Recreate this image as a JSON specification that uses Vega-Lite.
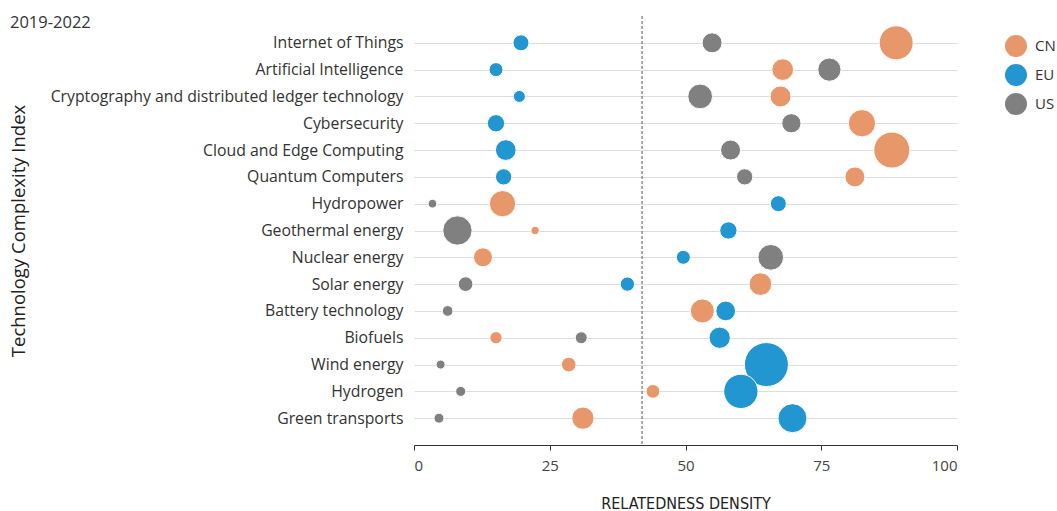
{
  "$schema": "https://vega.github.io/schema/vega-lite/v6.json",
  "width": 543,
  "height": 429,
  "autosize": "none",
  "padding": {"left": 414, "top": 16, "right": 100, "bottom": 66},
  "background": "white",
  "config": {
    "view": {"stroke": null},
    "font": "Open Sans"
  },
  "title": {
    "text": "2019-2022",
    "anchor": "start",
    "frame": "group",
    "orient": "top",
    "offset": 0,
    "dx": -404,
    "dy": 29,
    "baseline": "alphabetic",
    "font": "Open Sans",
    "fontSize": 16.5,
    "fontWeight": "normal",
    "color": "#333333"
  },
  "datasets": {
    "points": [
      {"tech": "Internet of Things", "region": "EU", "density": 19.7, "weight": 25.6},
      {"tech": "Internet of Things", "region": "US", "density": 54.9, "weight": 40},
      {"tech": "Internet of Things", "region": "CN", "density": 88.8, "weight": 115.6},
      {"tech": "Artificial Intelligence", "region": "EU", "density": 15.1, "weight": 19.6},
      {"tech": "Artificial Intelligence", "region": "CN", "density": 67.9, "weight": 47},
      {"tech": "Artificial Intelligence", "region": "US", "density": 76.5, "weight": 54},
      {"tech": "Cryptography and distributed ledger technology", "region": "EU", "density": 19.4, "weight": 14.4},
      {"tech": "Cryptography and distributed ledger technology", "region": "US", "density": 52.7, "weight": 61},
      {"tech": "Cryptography and distributed ledger technology", "region": "CN", "density": 67.5, "weight": 44},
      {"tech": "Cybersecurity", "region": "EU", "density": 15.1, "weight": 30},
      {"tech": "Cybersecurity", "region": "US", "density": 69.5, "weight": 37},
      {"tech": "Cybersecurity", "region": "CN", "density": 82.5, "weight": 74.5},
      {"tech": "Cloud and Edge Computing", "region": "EU", "density": 16.9, "weight": 43},
      {"tech": "Cloud and Edge Computing", "region": "US", "density": 58.3, "weight": 40},
      {"tech": "Cloud and Edge Computing", "region": "CN", "density": 88.0, "weight": 130},
      {"tech": "Quantum Computers", "region": "EU", "density": 16.5, "weight": 26.6},
      {"tech": "Quantum Computers", "region": "US", "density": 60.9, "weight": 26.6},
      {"tech": "Quantum Computers", "region": "CN", "density": 81.2, "weight": 40},
      {"tech": "Hydropower", "region": "US", "density": 3.4, "weight": 7.6},
      {"tech": "Hydropower", "region": "CN", "density": 16.3, "weight": 69},
      {"tech": "Hydropower", "region": "EU", "density": 67.1, "weight": 25.6},
      {"tech": "Geothermal energy", "region": "US", "density": 8.0, "weight": 86},
      {"tech": "Geothermal energy", "region": "CN", "density": 22.3, "weight": 6.9},
      {"tech": "Geothermal energy", "region": "EU", "density": 57.9, "weight": 30},
      {"tech": "Nuclear energy", "region": "CN", "density": 12.7, "weight": 36},
      {"tech": "Nuclear energy", "region": "EU", "density": 49.6, "weight": 19.6},
      {"tech": "Nuclear energy", "region": "US", "density": 65.7, "weight": 66},
      {"tech": "Solar energy", "region": "US", "density": 9.5, "weight": 21.6},
      {"tech": "Solar energy", "region": "EU", "density": 39.3, "weight": 20.4},
      {"tech": "Solar energy", "region": "CN", "density": 63.8, "weight": 51.5},
      {"tech": "Battery technology", "region": "US", "density": 6.2, "weight": 11.4},
      {"tech": "Battery technology", "region": "CN", "density": 53.1, "weight": 57.6},
      {"tech": "Battery technology", "region": "EU", "density": 57.4, "weight": 38.8},
      {"tech": "Biofuels", "region": "CN", "density": 15.1, "weight": 15},
      {"tech": "Biofuels", "region": "US", "density": 30.8, "weight": 14.4},
      {"tech": "Biofuels", "region": "EU", "density": 56.3, "weight": 45.4},
      {"tech": "Wind energy", "region": "US", "density": 4.9, "weight": 8.1},
      {"tech": "Wind energy", "region": "CN", "density": 28.5, "weight": 21.6},
      {"tech": "Wind energy", "region": "EU", "density": 64.9, "weight": 193.6},
      {"tech": "Hydrogen", "region": "US", "density": 8.6, "weight": 10},
      {"tech": "Hydrogen", "region": "CN", "density": 44.0, "weight": 18.8},
      {"tech": "Hydrogen", "region": "EU", "density": 60.2, "weight": 117.6},
      {"tech": "Green transports", "region": "US", "density": 4.6, "weight": 10},
      {"tech": "Green transports", "region": "CN", "density": 31.1, "weight": 49.7},
      {"tech": "Green transports", "region": "EU", "density": 69.7, "weight": 84}
    ],
    "threshold": [{"density": 42}]
  },
  "layer": [
    {
      "data": {"name": "threshold"},
      "mark": {"type": "rule", "color": "#555555", "strokeWidth": 1, "strokeDash": [3, 2]},
      "encoding": {
        "x": {"field": "density", "type": "quantitative", "scale": {"domain": [0, 100]}}
      }
    },
    {
      "data": {"name": "points"},
      "mark": {"type": "circle", "opacity": 1, "stroke": "white", "strokeWidth": 1},
      "encoding": {
        "x": {
          "field": "density",
          "type": "quantitative",
          "scale": {"domain": [0, 100], "nice": false},
          "axis": {
            "values": [0, 25, 50, 75, 100],
            "grid": false,
            "domainColor": "#333333",
            "tickColor": "#333333",
            "tickSize": 5,
            "labelFont": "Open Sans",
            "labelFontSize": 15,
            "labelColor": "#444444",
            "labelPadding": 8,
            "title": "RELATEDNESS DENSITY",
            "titleFont": "DejaVu Sans Condensed",
            "titleFontSize": 16,
            "titleFontWeight": "normal",
            "titleColor": "#222222",
            "titleBaseline": "alphabetic",
            "titleY": 63
          }
        },
        "y": {
          "field": "tech",
          "type": "nominal",
          "sort": null,
          "scale": {"padding": 1},
          "axis": {
            "domain": false,
            "ticks": false,
            "grid": true,
            "gridColor": "#dddddd",
            "gridWidth": 1,
            "labelFont": "Open Sans",
            "labelFontSize": 15.8,
            "labelColor": "#333333",
            "labelPadding": 11,
            "labelLimit": 500,
            "title": "Technology Complexity Index",
            "titleFont": "Open Sans",
            "titleFontSize": 18.5,
            "titleFontWeight": "normal",
            "titleColor": "#222222",
            "titleAngle": -90,
            "titleX": -386,
            "titleY": 214.5,
            "titleAlign": "center",
            "titleBaseline": "bottom"
          }
        },
        "color": {
          "field": "region",
          "type": "nominal",
          "scale": {"domain": ["CN", "EU", "US"], "range": ["#E8976A", "#2196D0", "#808080"]},
          "legend": {
            "title": null,
            "orient": "none",
            "legendX": 591,
            "legendY": 19,
            "symbolType": "circle",
            "symbolSize": 484,
            "symbolStrokeWidth": 0,
            "symbolOpacity": 1,
            "rowPadding": 7,
            "labelFont": "Open Sans",
            "labelFontSize": 15,
            "labelColor": "#333333",
            "labelOffset": 8
          }
        },
        "size": {
          "field": "weight",
          "type": "quantitative",
          "scale": {"domain": [0, 200], "range": [0, 2000], "zero": true},
          "legend": null
        }
      }
    }
  ]
}
